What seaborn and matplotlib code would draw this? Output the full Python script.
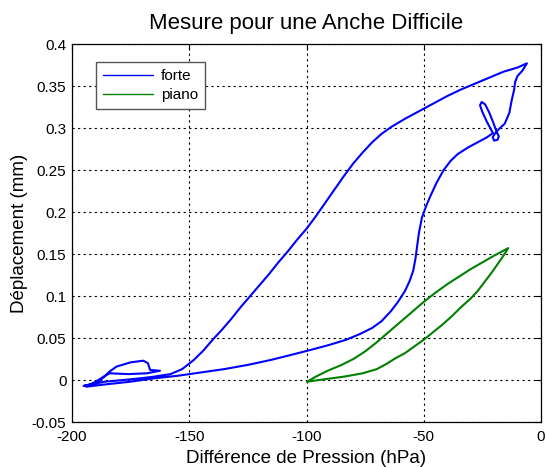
import matplotlib
matplotlib.use("Agg")
import matplotlib.pyplot as plt
import seaborn as sns
import pandas as pd

# ---- data ----
forte_x = [-195, -189, -184, -181, -175, -169.6, -167.6, -166.7, -162.5, -168, -176, -184,
           -190, -194,
           -185, -175, -165, -155, -145, -135, -125, -115, -105, -98, -90, -83, -77, -72,
           -68, -64, -61, -58, -56, -54.5, -53.5, -52.8, -52, -50.8, -49, -47, -44.5,
           -41.5, -38.5, -35.5, -31, -27, -23, -20.5,
           -23, -25, -26, -25.3, -23.8, -22, -20.3, -19, -18, -18.5, -20, -20.6, -19.5,
           -17.5, -15.5, -13.5, -12.5, -11.5, -11, -10, -8, -6,
           -10, -16, -22, -28, -34, -40, -46, -52, -58, -64, -68, -72, -76, -80, -84,
           -88, -92, -96, -100, -104, -108, -112, -116, -120, -124, -128, -132, -136,
           -140, -144, -148, -153, -158, -165, -171, -178, -186, -195]
forte_y = [-0.007, -0.003, 0.010, 0.016, 0.021, 0.023, 0.020, 0.012, 0.011, 0.008, 0.007,
           0.008, -0.002, -0.008,
           -0.005, -0.002, 0.002, 0.005, 0.009, 0.013, 0.018, 0.024, 0.031, 0.036, 0.042,
           0.048, 0.055, 0.062, 0.070, 0.082, 0.093, 0.106, 0.118, 0.130, 0.145, 0.160,
           0.176, 0.193, 0.207, 0.220, 0.235, 0.250, 0.261, 0.269, 0.277, 0.283, 0.289,
           0.294,
           0.307, 0.319, 0.327, 0.331, 0.328, 0.318, 0.306, 0.296, 0.290, 0.286, 0.285,
           0.289, 0.294,
           0.300, 0.305, 0.318, 0.333, 0.345, 0.355, 0.362, 0.368, 0.377,
           0.372, 0.367, 0.360, 0.353, 0.346, 0.338, 0.329, 0.320, 0.311, 0.301, 0.293,
           0.283, 0.271, 0.258, 0.243, 0.227, 0.211, 0.195, 0.180, 0.167, 0.153, 0.140,
           0.126, 0.113, 0.100, 0.087, 0.073, 0.060, 0.048, 0.035, 0.024, 0.013, 0.007,
           0.004, 0.002, 0.000, -0.002, -0.007]

piano_x = [-99.7, -96, -91, -85, -80, -75, -70, -65, -60, -55, -50, -45, -40, -35, -30,
           -25, -20, -14, -16, -18.5, -21, -24, -27, -30, -34, -38, -42, -46, -50, -54,
           -58, -62, -66, -70, -76, -84, -92, -99.7]
piano_y = [-0.002, 0.004, 0.011, 0.018, 0.025, 0.034, 0.045, 0.057, 0.069, 0.081, 0.093,
           0.104, 0.114, 0.123, 0.132, 0.140, 0.148, 0.157, 0.148, 0.138, 0.128, 0.117,
           0.106, 0.097, 0.087, 0.076, 0.066, 0.057, 0.048, 0.040, 0.032, 0.026, 0.019,
           0.013, 0.008, 0.004, 0.001, -0.002]

series_names = ["forte", "piano"]
x_ticks = [-200, -150, -100, -50, 0]
y_ticks = [-0.05, 0, 0.05, 0.1, 0.15, 0.2, 0.25, 0.3, 0.35, 0.4]
y_tick_labels = ["-0.05", "0", "0.05", "0.1", "0.15", "0.2", "0.25", "0.3", "0.35", "0.4"]
x_tick_labels = ["-200", "-150", "-100", "-50", "0"]

title = "Mesure pour une Anche Difficile"
xlabel = "Différence de Pression (hPa)"
ylabel = "Déplacement (mm)"

# ---- build table ----
df = pd.concat([
    pd.DataFrame({"x": forte_x, "y": forte_y, "series": series_names[0]}),
    pd.DataFrame({"x": piano_x, "y": piano_y, "series": series_names[1]}),
], ignore_index=True)

sns.set_style("white")
plt.rcParams["font.family"] = ["Liberation Sans", "DejaVu Sans"]
plt.rcParams["text.color"] = "black"
plt.rcParams["axes.labelcolor"] = "black"

fig = plt.figure(figsize=(5.46, 4.67), dpi=100)
ax = fig.add_axes([72 / 546, 1 - 422 / 467, 469 / 546, 378 / 467])

palette = {"forte": (0, 0, 1), "piano": (0, 0.5, 0)}
sns.lineplot(data=df, x="x", y="y", hue="series", palette=palette, sort=False,
             estimator=None, units="series", lw=1.5, ax=ax, legend=False)

ax.set_xlim(-200, 0)
ax.set_ylim(-0.05, 0.4)
ax.set_xticks(x_ticks)
ax.set_xticklabels(x_tick_labels)
ax.set_yticks(y_ticks)
ax.set_yticklabels(y_tick_labels)
ax.tick_params(direction="in", length=4, width=0.8, labelsize=11, colors="black",
               top=True, right=True)
ax.tick_params(axis="x", pad=6)
ax.tick_params(axis="y", pad=4)
ax.grid(True, color="black", linestyle=(0, (2, 3)), linewidth=0.8)
for s in ax.spines.values():
    s.set_color("black")
    s.set_linewidth(0.9)
    s.set_visible(True)

ax.set_title(title, fontsize=16, pad=11, color="black")
ax.set_xlabel(xlabel, fontsize=13.5, labelpad=4)
ax.set_ylabel(ylabel, fontsize=13.5, labelpad=3)

handles = [plt.Line2D([], [], color=palette[n], lw=1) for n in series_names]
leg = ax.legend(handles, series_names, loc="upper left", bbox_to_anchor=(0.051, 0.952),
                borderaxespad=0, fancybox=False, framealpha=1, edgecolor="#555555",
                fontsize=11, handlelength=3.3, handletextpad=0.5, borderpad=0.45,
                labelspacing=0.35)
leg.get_frame().set_linewidth(1.0)
for t in leg.get_texts():
    t.set_color("black")

fig.savefig("out.png", dpi=100)
